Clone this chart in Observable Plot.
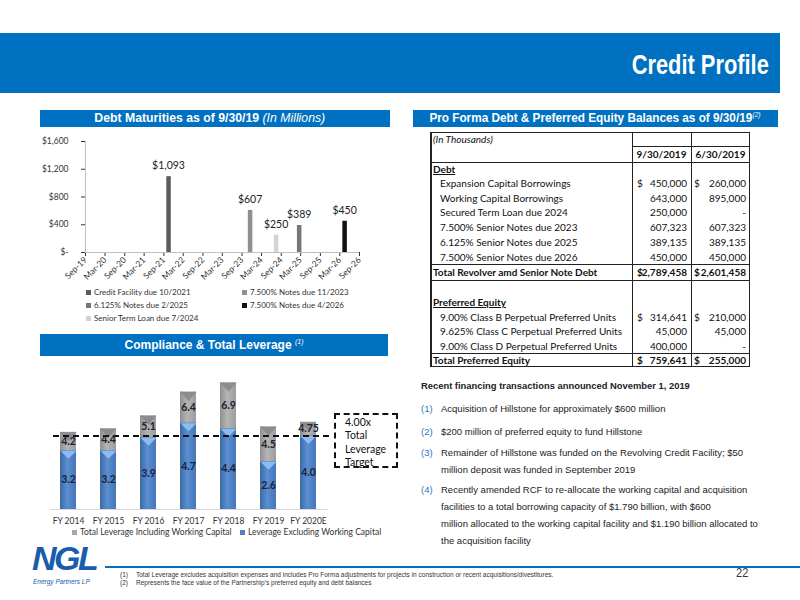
<!DOCTYPE html>
<html><head><meta charset="utf-8">
<script src="https://cdn.jsdelivr.net/npm/d3@7"></script>
<script src="https://cdn.jsdelivr.net/npm/@observablehq/plot@0.6"></script>
<style>
body{margin:0;background:#fff;}
#page{position:relative;width:800px;height:600px;overflow:hidden;background:#fff;font-family:"Liberation Sans",Arial,sans-serif;color:#222;}
.abs{position:absolute;}
.hdr{background:#0070c0;color:#fff;text-align:center;white-space:nowrap;}
.sq{display:inline-block;white-space:nowrap;}
#tbl{font-family:Lato,sans-serif;font-size:10px;color:#111;}
#tbl .t{position:absolute;height:14px;line-height:14px;white-space:nowrap;}
.lg{font-family:Lato,sans-serif;font-size:8px;color:#333;white-space:nowrap;display:flex;align-items:center;}
.sw{display:inline-block;width:5px;height:5px;margin-right:3px;}
.it{font-size:9.5px;line-height:17.3px;color:#222;white-space:nowrap;}
.num{color:#2a78c0;}
</style></head><body><div id="page">
<div class="abs hdr" style="left:0;top:33px;width:780px;height:60px;"></div>
<div class="abs" style="right:31px;top:51px;font-weight:bold;font-size:28px;line-height:28px;color:#fff;"><span class="sq" style="transform:scaleX(0.78);transform-origin:right center;">Credit Profile</span></div>
<div class="abs hdr" style="left:40px;top:110px;width:350px;height:17px;line-height:17px;font-size:12.5px;"><span class="sq" style="transform:scaleX(0.98);margin-left:-10px;"><b>Debt Maturities as of 9/30/19</b> <i>(In Millions)</i></span></div>
<div class="abs hdr" style="left:413px;top:110px;width:365px;height:17px;line-height:17px;font-size:12px;"><span class="sq" style="transform:scaleX(0.98);"><b>Pro Forma Debt &amp; Preferred Equity Balances as of 9/30/19</b><sup style="font-size:7px;font-style:italic;line-height:0;">(2)</sup></span></div>
<div class="abs hdr" style="left:40px;top:334px;width:348px;height:22px;line-height:22px;font-size:12px;"><b>Compliance &amp; Total Leverage</b> <sup style="font-size:7px;font-style:italic;line-height:0;">(1)</sup></div>

<div id="c1" class="abs" style="left:0;top:130px;"></div>
<div id="lg1"></div>
<div id="tbl" class="abs" style="left:430px;top:131.5px;width:320px;height:235.5px;"></div>

<div id="c2" class="abs" style="left:40px;top:362px;"></div>
<div id="lg2"></div>
<div class="abs" style="left:334px;top:413px;height:50px;border:2px dashed #111;font-family:Lato,sans-serif;font-size:10.5px;line-height:13.3px;padding:1px 0 0 9px;box-sizing:content-box;width:51px;color:#111;">4.00x<br>Total<br>Leverage<br>Target</div>

<div class="abs" style="left:421px;top:380px;font-size:9.4px;font-weight:bold;white-space:nowrap;">Recent financing transactions announced November 1, 2019</div>
<div id="items"></div>

<div class="abs" style="left:32px;top:544.5px;font:italic bold 34px/27px 'Liberation Sans',Arial,sans-serif;color:#1a5dad;letter-spacing:-2.5px;">NGL</div>
<div class="abs" style="left:33px;top:577.5px;font:italic 6.5px/8px 'Liberation Sans',Arial,sans-serif;color:#1a5dad;white-space:nowrap;">Energy Partners LP</div>
<div class="abs" style="left:105px;top:566px;width:695px;height:2px;background:#0070c0;"></div>
<div class="abs" style="left:120px;top:571px;font-size:6.5px;line-height:8px;color:#333;white-space:nowrap;">(1)<span style="position:absolute;left:16px;">Total Leverage excludes acquisition expenses and includes Pro Forma adjustments for projects in construction or recent acquisitions/divestitures.</span><br>(2)<span style="position:absolute;left:16px;">Represents the face value of the Partnership’s preferred equity and debt balances</span></div>
<div class="abs" style="left:736px;top:565px;font-size:13px;color:#333;"><span class="sq" style="transform:scaleX(0.85);transform-origin:left center;">22</span></div>
</div>
<script>
// ---------- Debt maturities (in millions) ----------
const maturitySeries = ["Credit Facility due 10/2021","7.500% Notes due 11/2023","6.125% Notes due 2/2025","7.500% Notes due 4/2026","Senior Term Loan due 7/2024"];
const maturityDates = ["2021-10-15","2023-11-15","2025-02-15","2026-04-15","2024-07-15"];
const maturityAmounts = [1093,607,389,450,250];
const maturityColors = ["#5c5c5c","#8f8f8f","#767676","#111111","#d4d4d4"];
const maturityTicks = ["2019-09-01","2020-03-01","2020-09-01","2021-03-01","2021-09-01","2022-03-01","2022-09-01","2023-03-01","2023-09-01","2024-03-01","2024-09-01","2025-03-01","2025-09-01","2026-03-01","2026-09-01"];
const maturityYTicks = [0,400,800,1200,1600];

// ---------- Leverage ----------
const fiscalYears = ["FY 2014","FY 2015","FY 2016","FY 2017","FY 2018","FY 2019","FY 2020E"];
const leverageExWC = [3.2,3.2,3.9,4.7,4.4,2.6,4.0];
const leverageTotal = [4.2,4.4,5.1,6.4,6.9,4.5,4.75];
const leverageTotalLabels = ["4.2","4.4","5.1","6.4","6.9","4.5","4.75"];
const leverageExLabels = ["3.2","3.2","3.9","4.7","4.4","2.6","4.0"];
const leverageTarget = 4.0;
const leverageSeries = ["Total Leverage Including Working Capital","Leverage Excluding Working Capital"];
const leverageColors = ["#a6a6a6","#4f81bd"];

// ---------- Table ----------
const tableDates = ["9/30/2019","6/30/2019"];
const debtLabels = ["Expansion Capital Borrowings","Working Capital Borrowings","Secured Term Loan due 2024","7.500% Senior Notes due 2023","6.125% Senior Notes due 2025","7.500% Senior Notes due 2026"];
const debtSep19 = ["450,000","643,000","250,000","607,323","389,135","450,000"];
const debtJun19 = ["260,000","895,000","-","607,323","389,135","450,000"];
const debtTotals = ["2,789,458","2,601,458"];
const prefLabels = ["9.00% Class B Perpetual Preferred Units","9.625% Class C Perpetual Preferred Units","9.00% Class D Perpetual Preferred Units"];
const prefSep19 = ["314,641","45,000","400,000"];
const prefJun19 = ["210,000","45,000","-"];
const prefTotals = ["759,641","255,000"];

// ---------- Notes ----------
const itemLines = [
  ["Acquisition of Hillstone for approximately $600 million"],
  ["$200 million of preferred equity to fund Hillstone"],
  ["Remainder of Hillstone was funded on the Revolving Credit Facility; $50","million deposit was funded in September 2019"],
  ["Recently amended RCF to re-allocate the working capital and acquisition","facilities to a total borrowing capacity of $1.790 billion, with $600","million allocated to the working capital facility and $1.190 billion allocated to","the acquisition facility"]
];
const itemTops = [399.5, 422.5, 443.5, 480.5];

// ===== Chart 1 =====
const mat = maturitySeries.map((s,i)=>({series:s, date:new Date(maturityDates[i]), amount:maturityAmounts[i]}));
const c1 = Plot.plot({
  width:400, height:155, marginLeft:85, marginRight:41, marginTop:11, marginBottom:33,
  style:{fontFamily:"Lato, sans-serif", fontSize:"8.5px", color:"#333", background:"transparent", overflow:"visible"},
  x:{type:"utc", domain:[new Date(maturityTicks[0]), new Date(maturityTicks[maturityTicks.length-1])], ticks:maturityTicks.map(d=>new Date(d)), tickFormat:d3.utcFormat("%b-%y"), tickRotate:-45, tickSize:4, tickPadding:2, label:null},
  y:{domain:[0,1600], ticks:maturityYTicks, tickFormat:d=>d===0?"$-":"$"+d3.format(",")(d), tickSize:4, tickPadding:13, label:null},
  color:{domain:maturitySeries, range:maturityColors},
  marks:[
    Plot.ruleY([0],{stroke:"#bfbfbf"}),
    Plot.ruleX([new Date(maturityTicks[0])],{stroke:"#bfbfbf"}),
    Plot.ruleX(mat,{x:"date", y1:0, y2:"amount", stroke:"series", strokeWidth:4.5}),
    Plot.text(mat,{x:"date", y:"amount", text:d=>"$"+d3.format(",")(d.amount), dy:-11, fontSize:10.5, fill:"#222"})
  ]
});
document.getElementById("c1").appendChild(c1);

const lg1 = document.getElementById("lg1");
maturitySeries.forEach((s,i)=>{
  const col = i%2, row = Math.floor(i/2);
  const d = document.createElement("div");
  d.className = "abs lg";
  d.style.left = (col? 242:86)+"px";
  d.style.top = (287 + row*13)+"px";
  d.style.height="10px";
  d.innerHTML = `<span class="sw" style="background:${maturityColors[i]}"></span>${s}`;
  lg1.appendChild(d);
});

// ===== Table (absolute layout) =====
const T = document.getElementById("tbl");
const top0 = 131.5;
function line(x, y, w, h){ const d=document.createElement("div"); d.style.cssText=`position:absolute;left:${x}px;top:${y}px;width:${w}px;height:${h}px;background:#222`; T.appendChild(d); }
function txt(s, yc, opt){
  const d=document.createElement("div"); d.className="t";
  d.style.top=(yc-top0-7)+"px";
  if(opt.left!=null) d.style.left=opt.left+"px";
  if(opt.right!=null) d.style.right=(320-opt.right)+"px";
  if(opt.center!=null){ d.style.left=(opt.center-40)+"px"; d.style.width="80px"; d.style.textAlign="center"; }
  if(opt.bold) d.style.fontWeight="bold";
  if(opt.italic) d.style.fontStyle="italic";
  if(opt.underline) d.style.textDecoration="underline";
  d.textContent=s; T.appendChild(d);
}
// frame & grid
line(0,0,320,1.5); line(0,234,320,1.5); line(0,0,1.5,235.5); line(318.5,0,1.5,235.5);
line(202,0,1,235.5); line(261,0,1,235.5);
line(202,145.5-top0,118,1); line(0,162-top0,320,1); line(0,263.5-top0,320,1); line(0,279.5-top0,320,1); line(0,353-top0,320,1);
function vals(a,b,yc,dollar,bold){
  txt(a, yc, {right:257, bold}); txt(b, yc, {right:316, bold});
  if(dollar){ txt("$", yc, {left:207, bold}); txt("$", yc, {left:264, bold}); }
}
txt("(In Thousands)", 139, {left:3, italic:true});
txt(tableDates[0], 154, {center:231.5, bold:true}); txt(tableDates[1], 154, {center:290.5, bold:true});
txt("Debt", 169, {left:3, bold:true, underline:true});
const debtY = [183, 197.7, 212, 227, 241.7, 256.5];
debtLabels.forEach((l,i)=>{ txt(l, debtY[i], {left:10}); vals(debtSep19[i], debtJun19[i], debtY[i], i===0, false); });
txt("Total Revolver amd Senior Note Debt", 271.5, {left:3, bold:true});
vals(debtTotals[0], debtTotals[1], 271.5, true, true);
txt("Preferred Equity", 301.7, {left:3, bold:true, underline:true});
const prefY = [316.5, 331, 345.7];
prefLabels.forEach((l,i)=>{ txt(l, prefY[i], {left:10}); vals(prefSep19[i], prefJun19[i], prefY[i], i===0, false); });
txt("Total Preferred Equity", 360, {left:3, bold:true});
vals(prefTotals[0], prefTotals[1], 360, true, true);

// ===== Items =====
const items = document.getElementById("items");
itemLines.forEach((lines,i)=>{
  const d = document.createElement("div");
  d.className = "abs it";
  d.style.left = "421px"; d.style.top = itemTops[i]+"px";
  d.innerHTML = `<span class="num">(${i+1})</span><span style="position:absolute;left:20px;top:0">${lines.join("<br>")}</span>`;
  items.appendChild(d);
});

// ===== Chart 2 =====
const lev = fiscalYears.map((fy,i)=>({fy, ex:leverageExWC[i], total:leverageTotal[i], tl:leverageTotalLabels[i], el:leverageExLabels[i]}));
const cap = (w,h)=>({draw(ctx){ctx.moveTo(-w/2,0);ctx.lineTo(w/2,0);ctx.lineTo(0,h);ctx.closePath();}});
const c2 = Plot.plot({
  width:300, height:168, marginLeft:8, marginRight:12, marginTop:0, marginBottom:21,
  style:{fontFamily:"Lato, sans-serif", fontSize:"8.5px", color:"#333", background:"transparent", overflow:"visible"},
  x:{domain:fiscalYears, paddingInner:0.6, paddingOuter:0.3, tickSize:0, tickPadding:8, label:null},
  y:{domain:[0,8], axis:null},
  marks:[
    Plot.ruleY([0],{stroke:"#d9d9d9", insetLeft:2}),
    Plot.barY(lev,{x:"fy", y:"total", fill:"url(#gGray)"}),
    Plot.dot(lev,{x:"fy", y:"total", symbol:cap(16,9), fill:"#8c8c8c", stroke:"none"}),
    Plot.barY(lev,{x:"fy", y:"ex", fill:"url(#gBlue)"}),
    Plot.dot(lev,{x:"fy", y:"ex", symbol:cap(16,8), fill:"#8dbbf0", stroke:"none"}),
    Plot.ruleY([leverageTarget],{stroke:"#111", strokeWidth:2, strokeDasharray:"6,4", insetLeft:5, insetRight:-2}),
    Plot.text(lev,{x:"fy", y:d=>d.ex/2, text:"el", fontWeight:"bold", fontSize:10.5, fill:"#1b2233"}),
    Plot.text(lev,{x:"fy", y:d=>(d.ex+d.total)/2, text:"tl", fontWeight:"bold", fontSize:10.5, fill:"#1b2233"})
  ]
});
const defs = d3.select(c2).insert("defs", ":first-child");
const gb = defs.append("linearGradient").attr("id","gBlue");
[["0%","#3b6aa6"],["45%","#5a8ed2"],["100%","#4576b8"]].forEach(([o,c])=>gb.append("stop").attr("offset",o).attr("stop-color",c));
const gg = defs.append("linearGradient").attr("id","gGray");
[["0%","#8f8f8f"],["45%","#b5b5b5"],["100%","#9c9c9c"]].forEach(([o,c])=>gg.append("stop").attr("offset",o).attr("stop-color",c));
document.getElementById("c2").appendChild(c2);

const lg2 = document.getElementById("lg2");
leverageSeries.forEach((s,i)=>{
  const d = document.createElement("div");
  d.className = "abs lg";
  d.style.left = (i? 240:72)+"px"; d.style.top = "527px"; d.style.height="10px";
  d.style.fontSize = "8.5px";
  d.innerHTML = `<span class="sw" style="background:${leverageColors[i]}"></span>${s}`;
  lg2.appendChild(d);
});
</script>
</body></html>
